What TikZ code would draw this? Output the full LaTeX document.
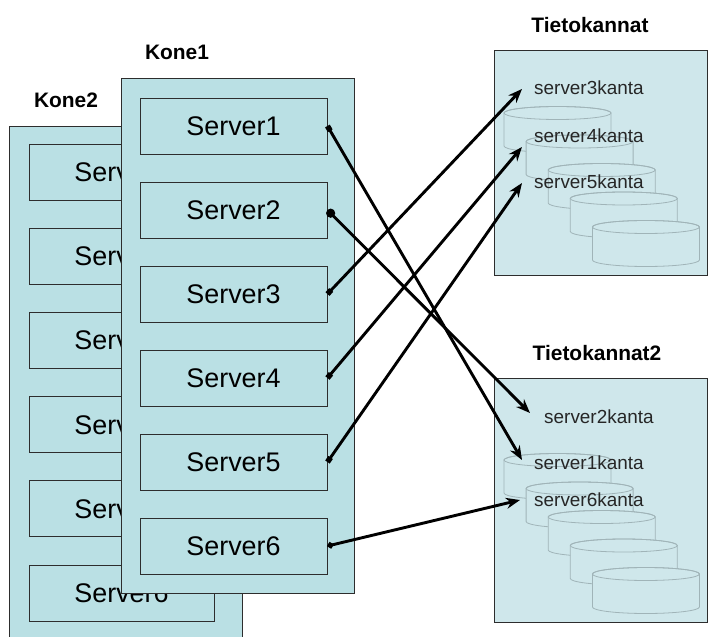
\documentclass[tikz,border=0pt]{standalone}
\usepackage{fontspec}
\setmainfont{Liberation Sans}
\usetikzlibrary{arrows.meta,calc}
\definecolor{koneblue}{RGB}{186,224,228}
\definecolor{dbblue}{RGB}{207,231,235}
\definecolor{cylgray}{RGB}{160,180,184}
\definecolor{edgegray}{RGB}{45,45,45}
\begin{document}
\begin{tikzpicture}[x=1bp,y=-1bp,
  machine/.style={draw=edgegray, fill=koneblue, line width=1bp, anchor=north west, inner sep=0pt},
  dbbox/.style={draw=edgegray, fill=dbblue, line width=1bp, anchor=north west, inner sep=0pt},
  srv/.style={draw=edgegray, fill=koneblue, line width=0.9bp, minimum width=187bp, minimum height=56bp, inner sep=0pt, font=\fontsize{27}{30}\selectfont},
  title/.style={font=\fontsize{21}{24}\selectfont\bfseries, inner sep=0pt},
  kanta/.style={font=\fontsize{19}{22}\selectfont, text=black!85, anchor=west, inner sep=0pt},
  link/.style={line width=2.9bp, black},
  sq/.style={{Square[length=5.5bp,width=5.5bp]}-{Stealth[length=14bp,width=11bp]}},
  cyl/.pic={
    \filldraw[draw=cylgray, fill=dbblue, line width=0.8bp]
      (-53.5,0) -- (-53.5,33) arc[start angle=180, end angle=0, x radius=53.5, y radius=6.5]
      -- (53.5,0) arc[start angle=360, end angle=180, x radius=53.5, y radius=6.5] -- cycle;
    \draw[cylgray, line width=0.8bp] (0,0) ellipse[x radius=53.5, y radius=6.5];
  }
]
\useasboundingbox (0,0) rectangle (708,637);
\fill[white] (0,0) rectangle (708,637);

% Kone2
\node[title] (kone2lbl) at (66,100) {Kone2};
\node[machine, minimum width=233bp, minimum height=514bp] (kone2) at (9,126) {};
\foreach \i in {1,...,6} {
  \node[srv, minimum width=185bp] (k2s\i) at (121.5,{172.5+84.1*(\i-1)}) {Server\i};
}

% Kone1
\node[title] (kone1lbl) at (177,52) {Kone1};
\node[machine, minimum width=233bp, minimum height=515bp] (kone1) at (121,78) {};
\foreach \i in {1,...,6} {
  \node[srv] (s\i) at (233.5,{126+84*(\i-1)}) {Server\i};
}

% Tietokannat
\node[title] (db1lbl) at (590,25) {Tietokannat};
\node[dbbox, minimum width=212.5bp, minimum height=225bp] (db1) at (494,50) {};
\foreach \j in {0,...,4} {
  \pic at ({557.5+22.1*\j},{113+28.5*\j}) {cyl};
}
\node[kanta] (k3) at (534,88) {server3kanta};
\node[kanta] (k4) at (534,136) {server4kanta};
\node[kanta] (k5) at (534,182) {server5kanta};

% Tietokannat2
\node[title] (db2lbl) at (597,353) {Tietokannat2};
\node[dbbox, minimum width=212.5bp, minimum height=244bp] (db2) at (494,378) {};
\foreach \j in {0,...,4} {
  \pic at ({557.5+22.1*\j},{460+28.5*\j}) {cyl};
}
\node[kanta] (k2) at (544,417) {server2kanta};
\node[kanta] (k1) at (534,463) {server1kanta};
\node[kanta] (k6) at (534,500) {server6kanta};

% connectors
\draw[link, sq] (s1.east) -- ($(k1.west)+(-12,-3)$);
\draw[link, {Circle[length=9bp]}-{Stealth[length=14bp,width=11bp]}] (s2.east) -- ($(k2.west)+(-14,-4)$);
\draw[link, sq] (s3.east) -- ($(k3.west)+(-12,1)$);
\draw[link, sq] (s4.east) -- ($(k4.west)+(-12,11)$);
\draw[link, sq] (s5.east) -- ($(k5.west)+(-12,1)$);
\draw[link, {Circle[length=6bp]}-{Stealth[length=14bp,width=11bp]}] (s6.east) -- ($(k6.west)+(-14,0)$);
\end{tikzpicture}
\end{document}
